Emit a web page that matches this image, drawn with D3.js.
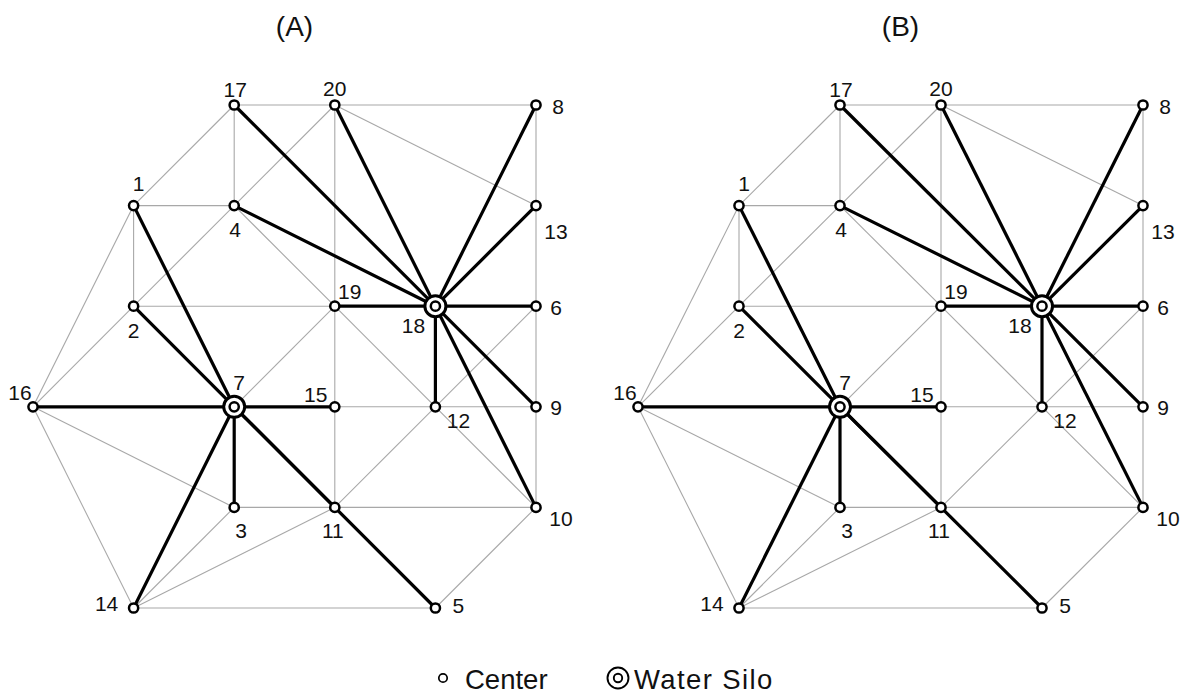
<!DOCTYPE html>
<html>
<head>
<meta charset="utf-8">
<script src="https://cdn.jsdelivr.net/npm/d3@7"></script>
<style>
  html, body { margin: 0; padding: 0; background: #fff; }
  svg { display: block; font-family: "Liberation Sans", Arial, sans-serif; }
</style>
</head>
<body>
<svg id="chart" width="1184" height="693"></svg>
<script>
// Network nodes: id with grid column / row
const nodeIds  = [16, 1, 2, 14, 17, 4, 7, 3, 20, 19, 15, 11, 18, 12, 5, 8, 13, 6, 9, 10];
const nodeCols = [ 0, 1, 1,  1,  2, 2, 2, 2,  3,  3,  3,  3,  4,  4, 4, 5,  5, 5, 5,  5];
const nodeRows = [ 3, 1, 2,  5,  0, 1, 3, 4,  0,  2,  3,  4,  2,  3, 5, 0,  1, 2, 3,  4];

// Road links between centers
const links = [
  [17, 20], [20, 8], [17, 1], [17, 4], [20, 4], [4, 2], [2, 16], [20, 13],
  [20, 19], [19, 15], [15, 11], [8, 13], [13, 6], [6, 9], [9, 10],
  [1, 4], [1, 2], [1, 16], [2, 19], [4, 19], [19, 12], [12, 10], [19, 7],
  [6, 12], [12, 11], [15, 12], [12, 9], [3, 11], [11, 10], [14, 5], [5, 10],
  [14, 3], [14, 11], [16, 3], [16, 14]
];

// Water silos
const silos = [7, 18];

// Center → silo assignments for each scenario
const assignA = [
  [17, 18], [20, 18], [4, 18], [8, 18], [13, 18], [19, 18], [6, 18], [12, 18], [9, 18], [10, 18],
  [1, 7], [2, 7], [16, 7], [15, 7], [3, 7], [14, 7], [11, 7], [5, 7]
];
const assignB = [
  [17, 18], [20, 18], [4, 18], [8, 18], [13, 18], [19, 18], [6, 18], [12, 18], [9, 18], [10, 18],
  [1, 7], [2, 7], [16, 7], [15, 7], [3, 7], [14, 7], [11, 7], [5, 7]
];

const panelTitles = ["(A)", "(B)"];
const legendLabels = ["Center", "Water Silo"];

// label placement around each node (pixels)
const labelOffset = {
  17: [1, -16], 20: [0, -17], 8: [22, 1], 1: [5, -22], 4: [1, 24], 13: [20, 26],
  2: [0, 24], 19: [15, -15], 6: [20, 1], 18: [-22, 19], 16: [-13, -14], 7: [5, -24],
  15: [-19, -12], 12: [23, 14], 9: [20, 1], 3: [7, 23], 11: [-2, 23], 10: [25, 11],
  14: [-27, -5], 5: [23, -3]
};

const nodes = nodeIds.map((id, i) => ({ id, col: nodeCols[i], row: nodeRows[i] }));
const byId = new Map(nodes.map(d => [d.id, d]));

const svg = d3.select("#chart");

const y = d3.scaleLinear().domain([0, 5]).range([105, 608]);
const panelX = [
  d3.scaleLinear().domain([0, 5]).range([33, 536]),
  d3.scaleLinear().domain([0, 5]).range([638, 1143])
];
const assigns = [assignA, assignB];

panelX.forEach((x, p) => {
  const g = svg.append("g");

  g.append("text")
    .attr("x", (x(0) + x(5)) / 2 + 10)
    .attr("y", 26)
    .attr("text-anchor", "middle")
    .attr("dominant-baseline", "central")
    .attr("font-size", 28)
    .attr("fill", "#111")
    .text(panelTitles[p]);

  g.append("g").selectAll("line").data(links).join("line")
    .attr("x1", d => x(byId.get(d[0]).col))
    .attr("y1", d => y(byId.get(d[0]).row))
    .attr("x2", d => x(byId.get(d[1]).col))
    .attr("y2", d => y(byId.get(d[1]).row))
    .attr("stroke", "#a8a8a8")
    .attr("stroke-width", 1.1);

  g.append("g").selectAll("line").data(assigns[p]).join("line")
    .attr("x1", d => x(byId.get(d[0]).col))
    .attr("y1", d => y(byId.get(d[0]).row))
    .attr("x2", d => x(byId.get(d[1]).col))
    .attr("y2", d => y(byId.get(d[1]).row))
    .attr("stroke", "#000")
    .attr("stroke-width", 3.2);

  g.append("g").selectAll("circle").data(silos).join("circle")
    .attr("cx", d => x(byId.get(d).col))
    .attr("cy", d => y(byId.get(d).row))
    .attr("r", 10.5)
    .attr("fill", "#fff")
    .attr("stroke", "#000")
    .attr("stroke-width", 3);

  g.append("g").selectAll("circle").data(nodes).join("circle")
    .attr("cx", d => x(d.col))
    .attr("cy", d => y(d.row))
    .attr("r", 4.6)
    .attr("fill", "#fff")
    .attr("stroke", "#000")
    .attr("stroke-width", 2.5);

  g.append("g").selectAll("text").data(nodes).join("text")
    .attr("x", d => x(d.col) + labelOffset[d.id][0])
    .attr("y", d => y(d.row) + labelOffset[d.id][1])
    .attr("text-anchor", "middle")
    .attr("dominant-baseline", "central")
    .attr("font-size", 21)
    .attr("fill", "#111")
    .text(d => d.id);
});

// legend
const leg = svg.append("g");
leg.append("circle").attr("cx", 443).attr("cy", 678).attr("r", 4.2)
  .attr("fill", "#fff").attr("stroke", "#000").attr("stroke-width", 1.7);
leg.append("text").attr("x", 465).attr("y", 679).attr("dominant-baseline", "central")
  .attr("font-size", 27.5).attr("fill", "#111").text(legendLabels[0]);
leg.append("circle").attr("cx", 618).attr("cy", 678).attr("r", 10.5)
  .attr("fill", "#fff").attr("stroke", "#000").attr("stroke-width", 1.9);
leg.append("circle").attr("cx", 618).attr("cy", 678).attr("r", 4.2)
  .attr("fill", "#fff").attr("stroke", "#000").attr("stroke-width", 1.9);
leg.append("text").attr("x", 634).attr("y", 679).attr("dominant-baseline", "central")
  .attr("font-size", 27.5).attr("letter-spacing", 1.4).attr("fill", "#111").text(legendLabels[1]);
</script>
</body>
</html>
